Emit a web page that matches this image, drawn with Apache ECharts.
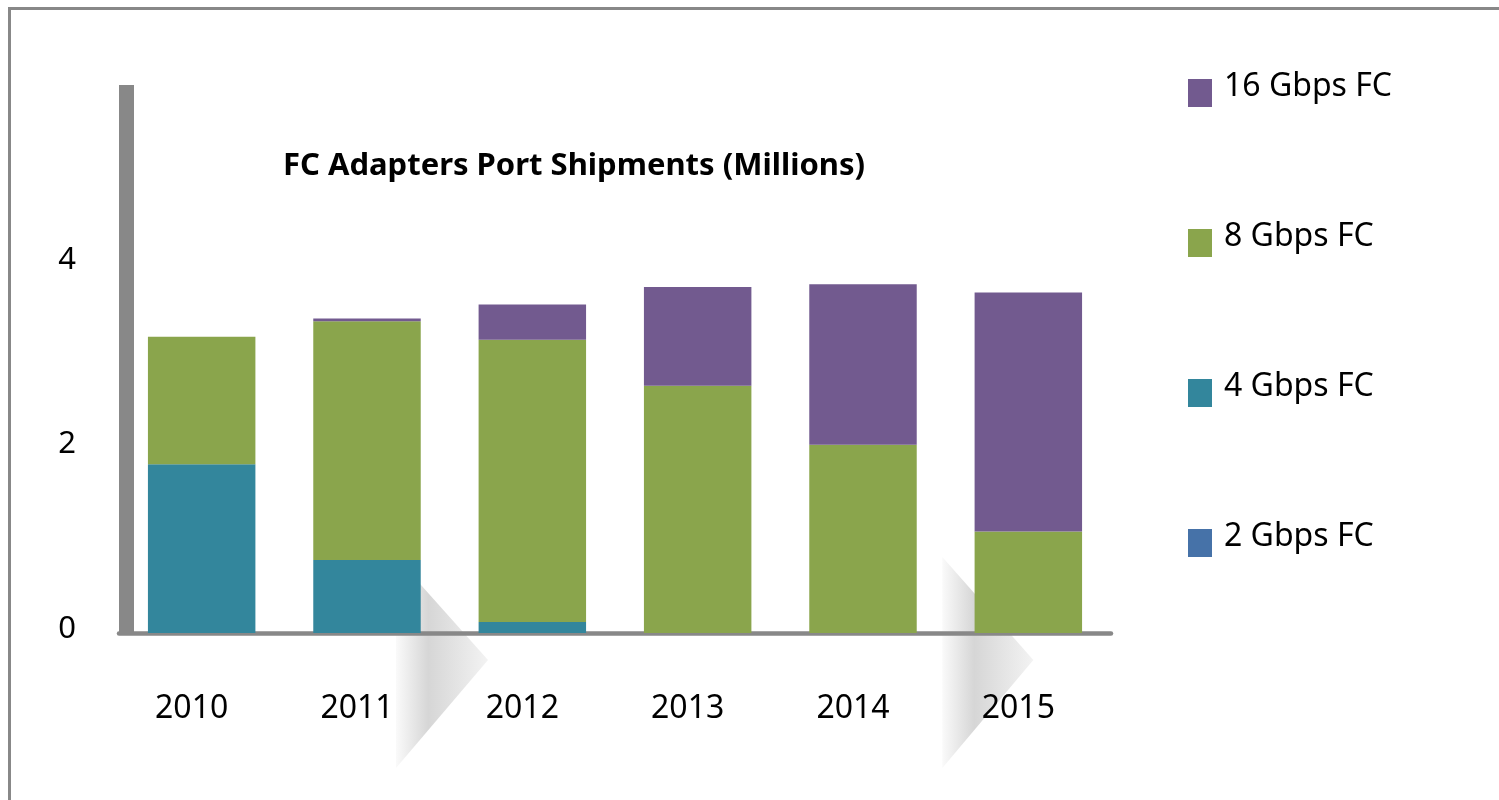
<!DOCTYPE html>
<html>
<head>
<meta charset="utf-8">
<script src="https://cdn.jsdelivr.net/npm/echarts@6/dist/echarts.min.js"></script>
<style>
html,body{margin:0;padding:0;background:#fff;}
#c{width:1499px;height:800px;}
</style>
</head>
<body>
<div id="c"></div>
<script>
const categories = ['2010', '2011', '2012', '2013', '2014', '2015'];
const gbps2  = [0, 0, 0, 0, 0, 0];
const gbps4  = [1.83, 0.79, 0.12, 0, 0, 0];
const gbps8  = [1.38, 2.59, 3.06, 2.68, 2.04, 1.10];
const gbps16 = [0, 0.03, 0.38, 1.07, 1.74, 2.59];
const seriesNames = ['2 Gbps FC', '4 Gbps FC', '8 Gbps FC', '16 Gbps FC'];
const seriesColors = ['#4672a8', '#33869c', '#8aa54c', '#725a8f'];
const seriesData = [gbps2, gbps4, gbps8, gbps16];
const titleText = 'FC Adapters Port Shipments (Millions)';
const FONT = 'Noto Sans';

const chart = echarts.init(document.getElementById('c'), null, {renderer: 'canvas'});

const option = {
  animation: false,
  backgroundColor: '#ffffff',
  title: {
    text: titleText,
    left: 569,
    top: 146,
    textAlign: 'center',
    textStyle: {fontFamily: FONT, fontWeight: 'bold', fontSize: 31, color: '#000'}
  },
  legend: {
    orient: 'vertical',
    left: 1183,
    top: 66,
    itemWidth: 24,
    itemHeight: 28,
    itemGap: 114,
    icon: 'rect',
    data: seriesNames.slice().reverse(),
    formatter: function (name) { return '{t|' + name + '}'; },
    textStyle: {
      fontFamily: FONT, fontSize: 32, color: '#000',
      rich: {t: {fontFamily: FONT, fontSize: 32, color: '#000', padding: [0, 0, 12, 7]}}
    }
  },
  grid: {left: 119, right: 388, top: 85, bottom: 167, containLabel: false},
  xAxis: {
    type: 'category',
    data: categories,
    offset: 2,
    axisLine: {lineStyle: {color: '#888888', width: 4.5}},
    axisTick: {show: false},
    axisLabel: {fontFamily: FONT, fontSize: 32, color: '#000', margin: 58, padding: [0, 20, 0, 0]}
  },
  yAxis: {
    type: 'value',
    min: 0,
    max: 5.94,
    interval: 2,
    offset: -7,
    splitLine: {show: false},
    axisLine: {show: true, lineStyle: {color: '#888888', width: 15, cap: 'butt'}},
    axisTick: {show: false},
    axisLabel: {
      fontFamily: FONT, fontSize: 31, color: '#000', margin: 50, showMaxLabel: false,
      formatter: function (v) { return '{v|' + v + '}'; },
      rich: {v: {fontFamily: FONT, fontSize: 31, color: '#000', padding: [0, 0, 8, 0]}}
    }
  },
  series: seriesNames.map((n, i) => ({
    name: n,
    type: 'bar',
    stack: 'total',
    barWidth: '65%',
    data: seriesData[i],
    itemStyle: {color: seriesColors[i]}
  })),
  graphic: [
    {
      type: 'rect',
      id: 'frame',
      z: 100,
      silent: true,
      shape: {x: 9.5, y: 8.5, width: 1600, height: 900},
      style: {fill: 'none', stroke: '#888888', lineWidth: 3}
    }
  ]
};
chart.setOption(option);

// decorative chevrons placed relative to the axes
const x1 = chart.convertToPixel({xAxisIndex: 0}, categories[1]);
const x5 = chart.convertToPixel({xAxisIndex: 0}, categories[5]);
const y0 = chart.convertToPixel({yAxisIndex: 0}, 0);
function chevron(id, left, apex) {
  return {
    type: 'polygon',
    id: id,
    z: -1,
    silent: true,
    shape: {points: [[left, y0 - 76], [apex, y0 + 27], [left, y0 + 135]]},
    style: {
      fill: new echarts.graphic.LinearGradient(0, 0, 1, 0, [
        {offset: 0, color: '#fafafa'},
        {offset: 0.35, color: '#d6d6d6'},
        {offset: 1, color: '#f3f3f3'}
      ])
    }
  };
}
chart.setOption({
  graphic: [
    chevron('chev1', x1 + 29, x1 + 121),
    chevron('chev2', x5 - 86, x5 + 5)
  ]
});
</script>
</body>
</html>
